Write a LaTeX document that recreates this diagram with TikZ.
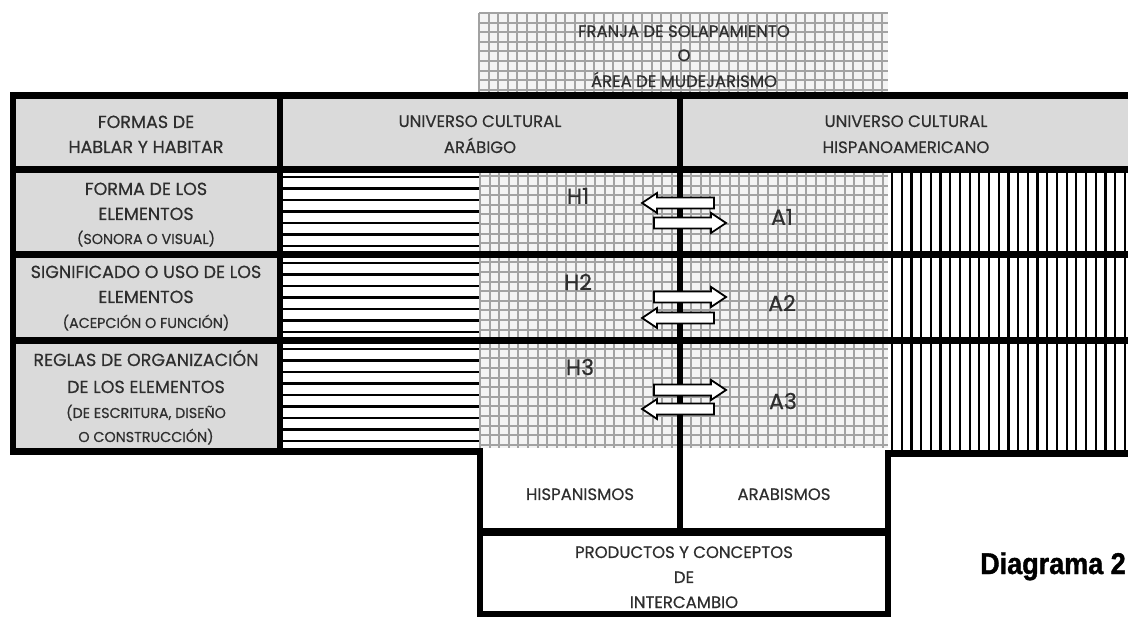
\documentclass[tikz,border=0pt]{standalone}
\usepackage{fontspec}
\setmainfont{Poppins}[FakeBold=0.35]
\newfontfamily\labfont[FakeBold=0.45]{Poppins}
\newfontfamily\diagfont[FakeStretch=0.9, BoldFeatures={FakeBold=1.2}]{Liberation Sans}
\definecolor{txt}{HTML}{2E2E2E}
\definecolor{cellgrey}{HTML}{DADADA}
\definecolor{gridln}{HTML}{A2A2A2}
\definecolor{gridbg}{HTML}{F3F3F3}
\tikzset{
  lbl/.style={text=txt, inner sep=0pt, anchor=base, font=\labfont\fontsize{16.5}{20}\selectfont},
  lcol/.style={text=txt, inner sep=0pt, anchor=base, font=\labfont\fontsize{17.5}{20}\selectfont},
  sml/.style={text=txt, inner sep=0pt, anchor=base, font=\labfont\fontsize{14.3}{16}\selectfont},
  big/.style={text=txt, inner sep=0pt, anchor=center, font=\labfont\fontsize{22}{26}\selectfont},
  blockarrow/.style={draw=black, line width=1.8pt, fill=white, line join=miter},
  gridline/.style={draw=gridln, line width=1.9pt},
  hline/.style={draw=black, line width=2.3pt},
  vline/.style={draw=black, line width=2.2pt},
  bar/.style={fill=black}
}
\newcommand{\blockRight}[3]{% tail x, tip x, y
  \draw[blockarrow] (#1,#3-5.5) -- (#2-15,#3-5.5) -- (#2-15,#3-10) -- (#2,#3) -- (#2-15,#3+10) -- (#2-15,#3+5.5) -- (#1,#3+5.5) -- cycle;}
\newcommand{\blockLeft}[3]{% tip x, tail x, y
  \draw[blockarrow] (#2,#3-5.5) -- (#1+15,#3-5.5) -- (#1+15,#3-10) -- (#1,#3) -- (#1+15,#3+10) -- (#1+15,#3+5.5) -- (#2,#3+5.5) -- cycle;}
\begin{document}
\begin{tikzpicture}[x=1pt,y=-1pt]
\useasboundingbox (0,0) rectangle (1128,617);
\fill[white] (0,0) rectangle (1128,617);

% ---------- franja (top grid box)
\fill[gridbg] (479,13) rectangle (888,96);
\foreach \x in {479,488.6,...,889} \draw[gridline] (\x,13) -- (\x,96);
\foreach \y in {13,22.6,...,96} \draw[gridline] (479,\y) -- (888,\y);

% ---------- grey cells
\fill[cellgrey] (10,92) rectangle (1128,173);
\fill[cellgrey] (10,92) rectangle (280,455);

% ---------- horizontal lines region
\fill[white] (283,173) rectangle (480,448);
\foreach \y in {177,188.5,...,248} \draw[hline] (283,\y) -- (480,\y);
\foreach \y in {263,274.5,...,335} \draw[hline] (283,\y) -- (480,\y);
\foreach \y in {349,360.5,...,445} \draw[hline] (283,\y) -- (480,\y);

% ---------- grid region
\fill[gridbg] (480,173) rectangle (888,448);
\foreach \x in {480,489.6,...,889} \draw[gridline] (\x,173) -- (\x,448);
\foreach \y in {176,185.6,...,449} \draw[gridline] (480,\y) -- (888,\y);

% ---------- vertical lines region
\fill[white] (888,173) rectangle (1128,450);
\foreach \x in {892,901.7,...,1128} \draw[vline] (\x,173) -- (\x,450);

% ---------- thick frame bars
\fill[bar] (10,92) rectangle (1128,99);
\fill[bar] (10,166) rectangle (1128,173);
\fill[bar] (10,251) rectangle (1128,258);
\fill[bar] (10,337) rectangle (1128,344);
\fill[bar] (10,448) rectangle (483,455);
\fill[bar] (885,450) rectangle (1128,457);
\fill[bar] (10,92) rectangle (16,455);
\fill[bar] (277,92) rectangle (283,455);
\fill[bar] (677,92) rectangle (683,536);
\fill[bar] (477,448) rectangle (483,617);
\fill[bar] (885,450) rectangle (891,617);
\fill[bar] (477,528) rectangle (891,536);
\fill[bar] (477,611) rectangle (891,617);

% ---------- exchange arrows
\blockLeft{642}{714}{203}
\blockRight{654}{726}{223}
\blockRight{654}{726}{297}
\blockLeft{642}{714}{318}
\blockRight{654}{726}{390}
\blockLeft{642}{714}{409}

% ---------- texts
\node[lbl] (f1) at (684,37) {FRANJA DE SOLAPAMIENTO};
\node[lbl] (f2) at (684,61) {O};
\node[lbl] (f3) at (684,87) {ÁREA DE MUDEJARISMO};

\node[lcol] (h1) at (146,128) {FORMAS DE};
\node[lcol] (h2) at (146,153) {HABLAR Y HABITAR};
\node[lbl] (ua1) at (480,127) {UNIVERSO CULTURAL};
\node[lbl] (ua2) at (480,153) {ARÁBIGO};
\node[lbl] (uh1) at (906,127) {UNIVERSO CULTURAL};
\node[lbl] (uh2) at (906,153) {HISPANOAMERICANO};

\node[lcol] (r1a) at (146,195) {FORMA DE LOS};
\node[lcol] (r1b) at (146,220) {ELEMENTOS};
\node[sml] (r1c) at (146,244) {(SONORA O VISUAL)};

\node[lcol] (r2a) at (146,278) {SIGNIFICADO\ O USO DE LOS};
\node[lcol] (r2b) at (146,303) {ELEMENTOS};
\node[sml] (r2c) at (146,328) {(ACEPCIÓN O FUNCIÓN)};

\node[lcol] (r3a) at (146,366) {REGLAS DE ORGANIZACIÓN};
\node[lcol] (r3b) at (146,393) {DE LOS ELEMENTOS};
\node[sml] (r3c) at (146,418) {(DE ESCRITURA, DISEÑO};
\node[sml] (r3d) at (146,442) {O CONSTRUCCIÓN)};

\node[big] (H1) at (578,196) {H1};
\node[big] (A1) at (782,217) {A1};
\node[big] (H2) at (578,282) {H2};
\node[big] (A2) at (782,303) {A2};
\node[big] (H3) at (580,367) {H3};
\node[big] (A3) at (783,401) {A3};

\node[lbl] (hisp) at (580,500) {HISPANISMOS};
\node[lbl] (arab) at (784,500) {ARABISMOS};

\node[lbl] (p1) at (684,558) {PRODUCTOS Y CONCEPTOS};
\node[lbl] (p2) at (684,583) {DE};
\node[lbl] (p3) at (684,608) {INTERCAMBIO};

\node[inner sep=0pt, anchor=base west, font=\diagfont\bfseries\fontsize{30}{33}\selectfont] (diag) at (980,574) {Diagrama 2};
\end{tikzpicture}
\end{document}
